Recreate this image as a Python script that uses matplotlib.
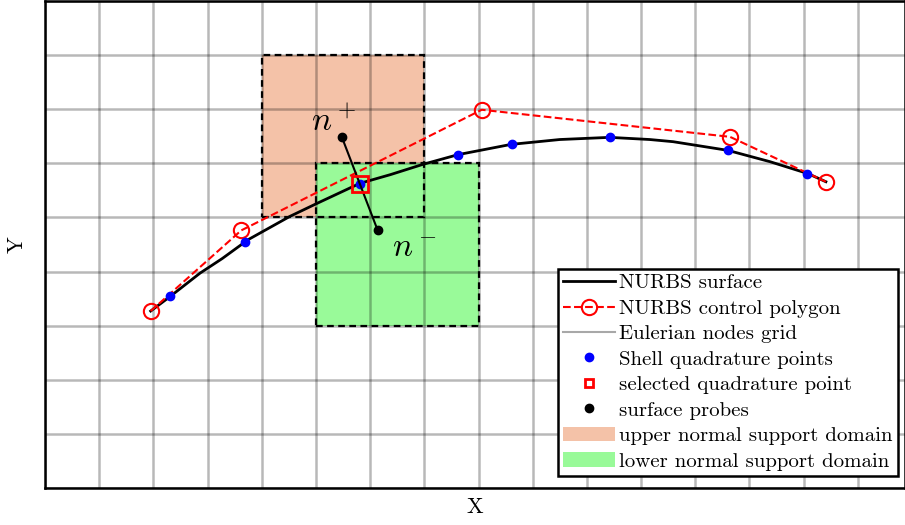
import numpy as np
import matplotlib.pyplot as plt
from matplotlib.patches import Rectangle, Patch
from matplotlib.lines import Line2D

plt.rcParams['font.family'] = 'serif'
plt.rcParams['font.serif'] = ['cmr10']
plt.rcParams['mathtext.fontset'] = 'cm'
plt.rcParams['axes.formatter.use_mathtext'] = True
plt.rcParams['axes.unicode_minus'] = False

# control polygon of the NURBS
ctrl_x = [1.95, 3.62, 8.06, 12.64, 14.41]
ctrl_y = [3.27, 4.76, 6.99, 6.49, 5.66]

# NURBS surface (sampled)
surf_x = [1.95, 2.31, 2.86, 3.27, 3.75, 4.52, 5.02, 5.81, 6.37, 6.97, 7.62,
          8.60, 9.50, 10.42, 11.16, 11.59, 12.60, 13.38, 14.08, 14.41]
surf_y = [3.27, 3.54, 3.97, 4.24, 4.59, 5.02, 5.26, 5.63, 5.79, 5.98, 6.16,
          6.35, 6.44, 6.48, 6.44, 6.40, 6.24, 6.03, 5.81, 5.66]

# shell quadrature points
quad_x = [2.31, 3.69, 5.81, 7.62, 8.62, 10.42, 12.60, 14.06]
quad_y = [3.54, 4.54, 5.61, 6.16, 6.35, 6.48, 6.24, 5.81]
sel = 2

# surface probes n+ and n-
probe_x = [5.48, 6.14]
probe_y = [6.48, 4.76]

# support domains (x0, y0, w, h)
upper_dom = (4, 5, 3, 3)
lower_dom = (5, 3, 3, 3)

fig = plt.figure(figsize=(9.05, 5.25), dpi=100)
ax = fig.add_axes([45/905, 37/525, 860/905, 487/525])

c_up = '#F4C2A8'
c_lo = '#99FA99'
ax.add_patch(Rectangle(upper_dom[:2], upper_dom[2], upper_dom[3], fc=c_up, ec='none', zorder=0))
ax.add_patch(Rectangle(lower_dom[:2], lower_dom[2], lower_dom[3], fc=c_lo, ec='none', zorder=0))
for d in (upper_dom, lower_dom):
    ax.add_patch(Rectangle(d[:2], d[2], d[3], fc='none', ec='black', ls=(0, (3, 2)), lw=1.6, zorder=3))

ax.plot(surf_x, surf_y, '-', color='black', lw=2, zorder=4)
ax.plot(ctrl_x, ctrl_y, '--', color='red', lw=1.5, marker='o', ms=11, mfc='none', mew=1.5, zorder=4)
ax.plot(quad_x, quad_y, 'o', color='blue', ms=6, zorder=5)
ax.plot(quad_x[sel], quad_y[sel], 's', color='red', ms=12, mfc='none', mew=2, zorder=6)
ax.plot(probe_x, probe_y, '-', color='black', lw=1.5, zorder=5)
ax.plot(probe_x, probe_y, 'o', color='black', ms=6, zorder=6)

ax.text(5.33, 6.78, '$n^+$', fontsize=24, ha='center', va='center')
ax.text(6.82, 4.43, '$n^-$', fontsize=24, ha='center', va='center')

ax.set_xlim(0, 15.87)
ax.set_ylim(0, 9)
ax.set_xticks(np.arange(0, 16))
ax.set_yticks(np.arange(0, 10))
ax.set_xticklabels([])
ax.set_yticklabels([])
ax.tick_params(length=0)
ax.grid(True, color='black', alpha=0.28, lw=1.8)
ax.set_axisbelow(False)
for s in ax.spines.values():
    s.set_linewidth(1.8)
    s.set_zorder(10)

ax.set_xlabel('X', fontsize=16, labelpad=3)
ax.set_ylabel('Y', fontsize=16, labelpad=10)

handles = [
    Line2D([], [], color='black', lw=2),
    Line2D([], [], color='red', ls='--', lw=1.5, marker='o', ms=11, mfc='none', mew=1.5),
    Line2D([], [], color='#a8a8a8', lw=1.5),
    Line2D([], [], ls='none', marker='o', color='blue', ms=6),
    Line2D([], [], ls='none', marker='s', color='red', ms=6, mfc='none', mew=2),
    Line2D([], [], ls='none', marker='o', color='black', ms=6),
    Patch(fc=c_up, ec='none'),
    Patch(fc=c_lo, ec='none'),
]
labels = ['NURBS surface', 'NURBS control polygon', 'Eulerian nodes grid',
          'Shell quadrature points', 'selected quadrature point', 'surface probes',
          'upper normal support domain', 'lower normal support domain']
leg = ax.legend(handles, labels, loc='lower right', bbox_to_anchor=(0.992, 0.025),
                borderaxespad=0, fontsize=15, handlelength=2.5, handletextpad=0.2,
                labelspacing=0.33, borderpad=0.25, fancybox=False, framealpha=1,
                edgecolor='black')
leg.get_frame().set_linewidth(1.8)
leg.set_zorder(20)

fig.savefig('out.png', dpi=100)
